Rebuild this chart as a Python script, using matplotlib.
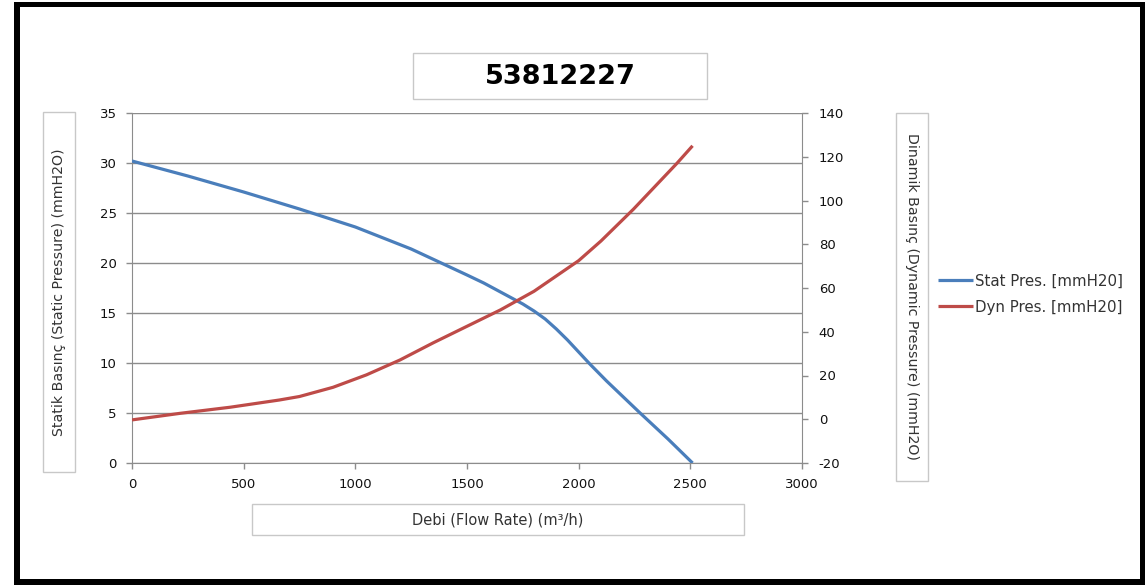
import numpy as np
import matplotlib.pyplot as plt
from matplotlib.patches import Rectangle

# Values
flow_stat = [0, 250, 500, 750, 1000, 1250, 1500, 1575, 1650, 1750, 1800, 1850, 1900, 1950,
             2000, 2050, 2125, 2200, 2275, 2400, 2510]
stat_pres = [30.2, 28.7, 27.1, 25.4, 23.6, 21.4, 18.8, 18.0, 17.1, 15.9, 15.2, 14.4, 13.4, 12.3,
             11.1, 9.9, 8.2, 6.6, 5.0, 2.4, 0.0]
flow_dyn = [0, 215, 440, 660, 750, 900, 1050, 1200, 1350, 1500, 1650, 1800, 1900, 2000,
            2100, 2175, 2245, 2440, 2510]
dyn_pres = [-0.3, 2.7, 5.5, 8.8, 10.4, 14.6, 20.3, 27.1, 35.0, 42.5, 50.0, 58.5, 65.5, 72.5,
            81.5, 89.0, 96.0, 117.0, 125.0]

title_txt = "53812227"
xlabel_txt = "Debi (Flow Rate) (m³/h)"
ylabel_left = "Statik Basınç (Static Pressure) (mmH2O)"
ylabel_right = "Dinamik Basınç (Dynamic Pressure) (mmH2O)"
legend_labels = ["Stat Pres. [mmH20]", "Dyn Pres. [mmH20]"]

W, H = 1145, 585
blue = "#4A7EBB"
red = "#BE4B48"
grid_c = "#8C8C8C"
box_c = "#C8C8C8"
txt_c = "#333333"

plt.rcParams['font.family'] = ['DejaVu Sans']
plt.rcParams['axes.unicode_minus'] = False

fig = plt.figure(figsize=(W / 100, H / 100), dpi=100)

def px_rect(x0, y0, x1, y1, **kw):
    # rectangle given in pixel coords (origin top-left)
    r = Rectangle((x0 / W, 1 - y1 / H), (x1 - x0) / W, (y1 - y0) / H,
                  transform=fig.transFigure, **kw)
    fig.patches.append(r)
    return r

# black frame
for (a, b, c, d) in [(14, 2, 20, 585), (14, 2, 1145, 7), (1140, 2, 1145, 585), (14, 579, 1145, 585)]:
    px_rect(a, b, c, d, facecolor="black", edgecolor="none")

ax = fig.add_axes([132 / W, 1 - 463 / H, (802 - 132) / W, (463 - 113) / H])
ax2 = ax.twinx()

l1, = ax.plot(flow_stat, stat_pres, color=blue, lw=2.3, solid_capstyle='butt',
              solid_joinstyle='round', zorder=3)
l2, = ax2.plot(flow_dyn, dyn_pres, color=red, lw=2.3, solid_capstyle='butt',
               solid_joinstyle='round', zorder=3)

ax.set_xlim(0, 3000)
ax.set_ylim(0, 35)
ax2.set_ylim(-20, 140)
ax.set_xticks(np.arange(0, 3001, 500))
ax.set_yticks(np.arange(0, 36, 5))
ax2.set_yticks(np.arange(-20, 141, 20))

ax.grid(axis='y', color=grid_c, lw=1.0)
ax.set_axisbelow(True)

for a in (ax, ax2):
    for s in a.spines.values():
        s.set_color(grid_c)
    a.spines['top'].set_visible(False)
    a.tick_params(colors=grid_c, labelcolor="#111111", labelsize=9.5, length=4, width=1)
ax.spines['right'].set_visible(False)
ax2.spines['left'].set_visible(False)
ax2.spines['bottom'].set_visible(False)
ax.tick_params(axis='y', pad=7)
ax.tick_params(axis='x', pad=7)
ax2.tick_params(axis='y', pad=8)

# title box
px_rect(413, 53, 707, 99, facecolor="white", edgecolor=box_c, lw=1)
fig.text(560 / W, 1 - 77 / H, title_txt, ha='center', va='center',
         fontsize=19.5, fontweight='bold')

# axis label boxes
px_rect(43, 112, 75, 472, facecolor="white", edgecolor=box_c, lw=1)
fig.text(59 / W, 1 - 292 / H, ylabel_left, rotation=90, ha='center', va='center',
         fontsize=10.2, color=txt_c)
px_rect(896, 113, 928, 481, facecolor="white", edgecolor=box_c, lw=1)
fig.text(912 / W, 1 - 296 / H, ylabel_right, rotation=270, ha='center', va='center',
         fontsize=10.2, color=txt_c)
px_rect(252, 504, 744, 535, facecolor="white", edgecolor=box_c, lw=1)
fig.text(498 / W, 1 - 520 / H, xlabel_txt, ha='center', va='center',
         fontsize=10.5, color=txt_c)

fig.legend([l1, l2], legend_labels, loc='center left',
           bbox_to_anchor=(938 / W, 1 - 294 / H), frameon=False,
           fontsize=10.8, handlelength=2.3, handletextpad=0.15,
           borderpad=0, borderaxespad=0, labelspacing=0.75, labelcolor=txt_c)

fig.savefig("out.png", dpi=100, facecolor="white")
